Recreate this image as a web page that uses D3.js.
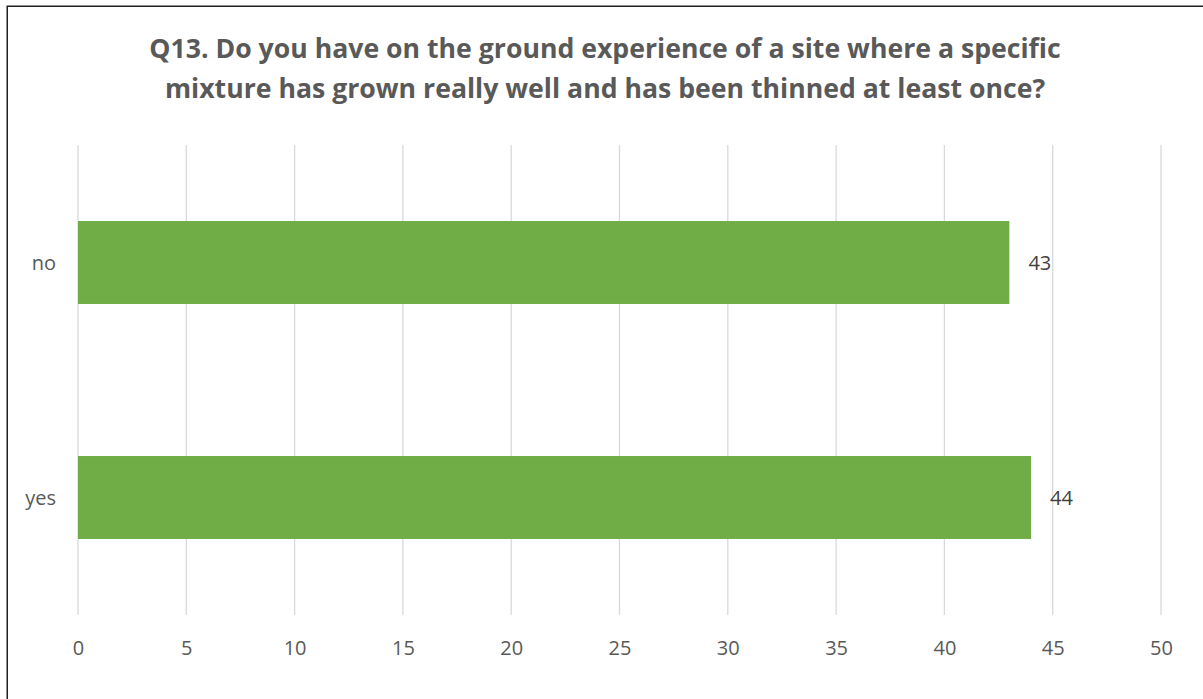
<!DOCTYPE html>
<html>
<head>
<meta charset="utf-8">
<script src="https://cdn.jsdelivr.net/npm/d3@7"></script>
<style>
  html, body { margin: 0; padding: 0; background: #fff; }
  svg { display: block; }
  text { font-family: "Open Sans", Lato, sans-serif; }
</style>
</head>
<body>
<svg id="chart" width="1203" height="699"></svg>
<script>
// Survey answers
const categories = ["no", "yes"];
const values = [43, 44];
const tickValues = [0, 5, 10, 15, 20, 25, 30, 35, 40, 45, 50];
const titleLines = [
  "Q13. Do you have on the ground experience of a site where a specific",
  "mixture has grown really well and has been thinned at least once?"
];

const svg = d3.select("#chart");
const W = 1203, H = 699;
const plot = { left: 78, right: 1161, top: 145, bottom: 615 };
const labelFont = "'Open Sans', Lato, sans-serif";

svg.append("rect").attr("width", W).attr("height", H).attr("fill", "#fff");

// chart frame (runs off the right and bottom edges)
svg.append("rect")
  .attr("x", 7.25).attr("y", 6.25)
  .attr("width", W + 20).attr("height", H + 20)
  .attr("fill", "none").attr("stroke", "#1f1f1f").attr("stroke-width", 1.5);

const x = d3.scaleLinear().domain([0, 50]).range([plot.left, plot.right]);
const y = d3.scaleBand().domain(categories)
  .range([plot.top, plot.bottom])
  .paddingInner(0.647).paddingOuter(0.647 / 2);

// vertical gridlines
svg.append("g").selectAll("line").data(tickValues).join("line")
  .attr("x1", d => x(d)).attr("x2", d => x(d))
  .attr("y1", plot.top).attr("y2", plot.bottom)
  .attr("stroke", "#d9d9d9").attr("stroke-width", 1.3);

// x axis labels
const xAxis = d3.axisBottom(x).tickValues(tickValues).tickSize(0).tickPadding(0);
const gx = svg.append("g").attr("transform", `translate(0,${plot.bottom})`).call(xAxis);
gx.select(".domain").remove();
gx.selectAll("text")
  .attr("y", 40).attr("dy", null)
  .attr("font-size", 20).attr("fill", "#595959")
  .style("font-family", labelFont);

// category labels
const yAxis = d3.axisLeft(y).tickSize(0).tickPadding(22);
const gy = svg.append("g").attr("transform", `translate(${plot.left},0)`).call(yAxis);
gy.select(".domain").remove();
gy.selectAll("text")
  .attr("font-size", 20).attr("fill", "#595959").attr("dy", "0.35em")
  .style("font-family", labelFont);

// bars
svg.append("g").selectAll("rect").data(categories).join("rect")
  .attr("x", x(0))
  .attr("y", d => y(d))
  .attr("width", (d, i) => x(values[i]) - x(0))
  .attr("height", y.bandwidth())
  .attr("fill", "#70ad47");

// value labels
svg.append("g").selectAll("text").data(categories).join("text")
  .attr("x", (d, i) => x(values[i]) + 19)
  .attr("y", d => y(d) + y.bandwidth() / 2)
  .attr("dy", "0.35em")
  .attr("font-size", 20).attr("fill", "#404040")
  .style("font-family", labelFont)
  .text((d, i) => values[i]);

// title, sized so the first line spans 912px
const title = svg.append("g");
const tLines = title.selectAll("text").data(titleLines).join("text")
  .attr("x", 605)
  .attr("y", (d, i) => 58 + i * 40)
  .attr("text-anchor", "middle")
  .attr("font-weight", "bold")
  .attr("font-size", 26)
  .attr("fill", "#595959")
  .style("font-family", "'Open Sans', Lato, sans-serif")
  .text(d => d);
const w0 = tLines.nodes()[0].getComputedTextLength();
tLines.attr("font-size", 26 * 912 / w0);
</script>
</body>
</html>
